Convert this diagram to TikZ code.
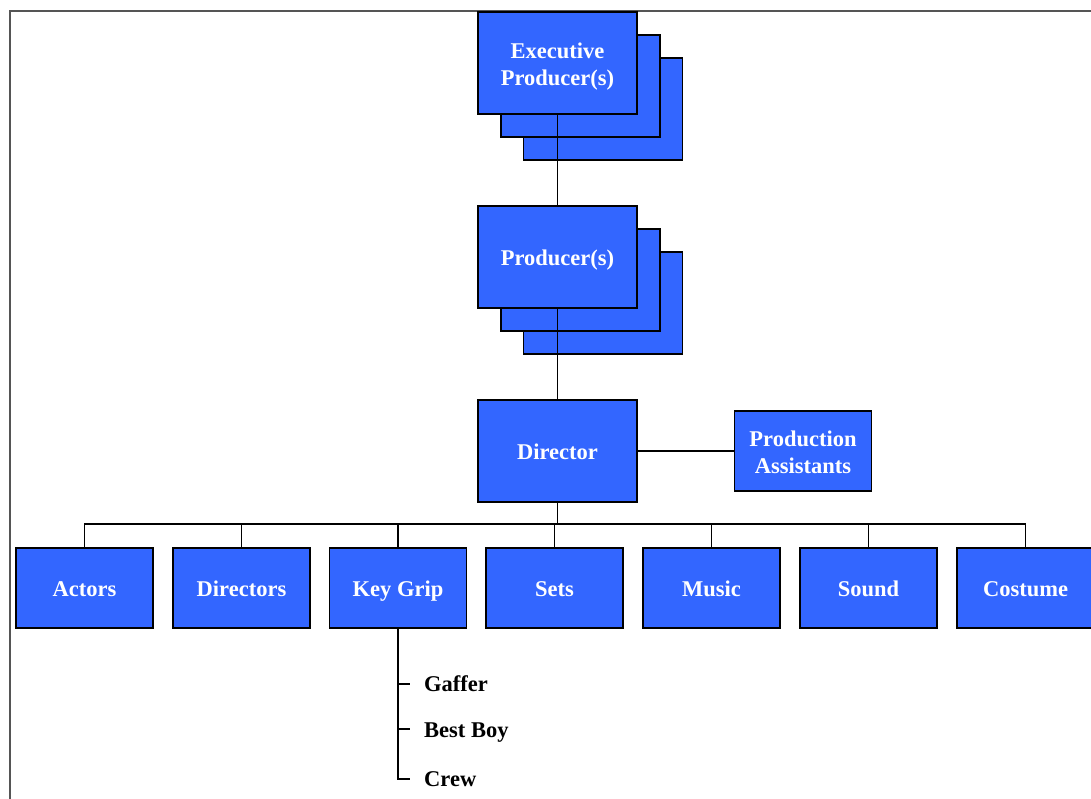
\documentclass[tikz,border=0pt]{standalone}
\usepackage{fontspec}
\setmainfont{Liberation Serif}
\definecolor{boxblue}{HTML}{3366FF}
\definecolor{framegray}{HTML}{555555}
\tikzset{
  boxtext/.style={text=white, inner sep=0pt, font=\fontsize{22.5}{27}\selectfont\bfseries, align=center},
  box/.style={draw=black, fill=boxblue, line width=1.1pt, boxtext},
  oneline/.style={text height=16pt, text depth=0pt},
  bigbox/.style={box, minimum width=159pt, minimum height=102pt},
  smallbox/.style={box, minimum width=137pt, minimum height=80pt},
  conn/.style={draw=black, line width=1.1pt},
  sublabel/.style={anchor=base west, inner sep=0pt, font=\fontsize{22.5}{27}\selectfont\bfseries}
}
\begin{document}
\begin{tikzpicture}[x=1pt,y=-1pt]
\useasboundingbox (0,0) rectangle (1091,798);
\draw[framegray, line width=2pt] (9.5,800) -- (9.5,10.5) -- (1095,10.5);
% Executive producers stack
\node[bigbox] (e3) at (603,109) {};
\node[bigbox] (e2) at (580.5,86) {};
\node[bigbox, label={[boxtext, yshift=-3.5pt]center:Executive\\Producer(s)}] (exec) at (557.5,63) {};
% Producers stack
\node[bigbox] (p3) at (603,303) {};
\node[bigbox] (p2) at (580.5,280) {};
\node[bigbox, oneline] (prod) at (557.5,257) {Producer(s)};
% Director
\node[bigbox, oneline] (dir) at (557.5,451) {Director};
\node[smallbox, label={[boxtext, yshift=-1pt]center:Production\\Assistants}] (pa) at (803,451) {};
% Departments
\node[smallbox, oneline] (actors) at (84.5,588) {Actors};
\node[smallbox, oneline] (directors) at (241.5,588) {Directors};
\node[smallbox, oneline] (keygrip) at (398,588) {Key Grip};
\node[smallbox, oneline] (sets) at (554.5,588) {Sets};
\node[smallbox, oneline] (music) at (711.5,588) {Music};
\node[smallbox, oneline] (sound) at (868.5,588) {Sound};
\node[smallbox, oneline] (costume) at (1025.5,588) {Costume};
% Connectors
\draw[conn] (exec.south) -- (prod.north);
\draw[conn] (prod.south) -- (dir.north);
\draw[conn] (dir.east) -- (pa.west);
\coordinate (bus) at (557.5,524);
\draw[conn] (dir.south) -- (bus);
\draw[conn] (actors.north) |- (bus);
\draw[conn] (costume.north) |- (bus);
\foreach \n in {directors,keygrip,sets,music,sound}{
  \draw[conn] (\n.north) -- (\n.north |- bus);
}
% Key grip sub list
\node[sublabel] (gaffer) at (424,691) {Gaffer};
\node[sublabel] (bestboy) at (424,737) {Best Boy};
\node[sublabel] (crew) at (424,786.5) {Crew};
\coordinate (t1) at (410,684);
\coordinate (t2) at (410,729);
\coordinate (t3) at (410,779);
\draw[conn] (keygrip.south) |- (t3);
\draw[conn] (keygrip.south |- t1) -- (t1);
\draw[conn] (keygrip.south |- t2) -- (t2);
\end{tikzpicture}
\end{document}
